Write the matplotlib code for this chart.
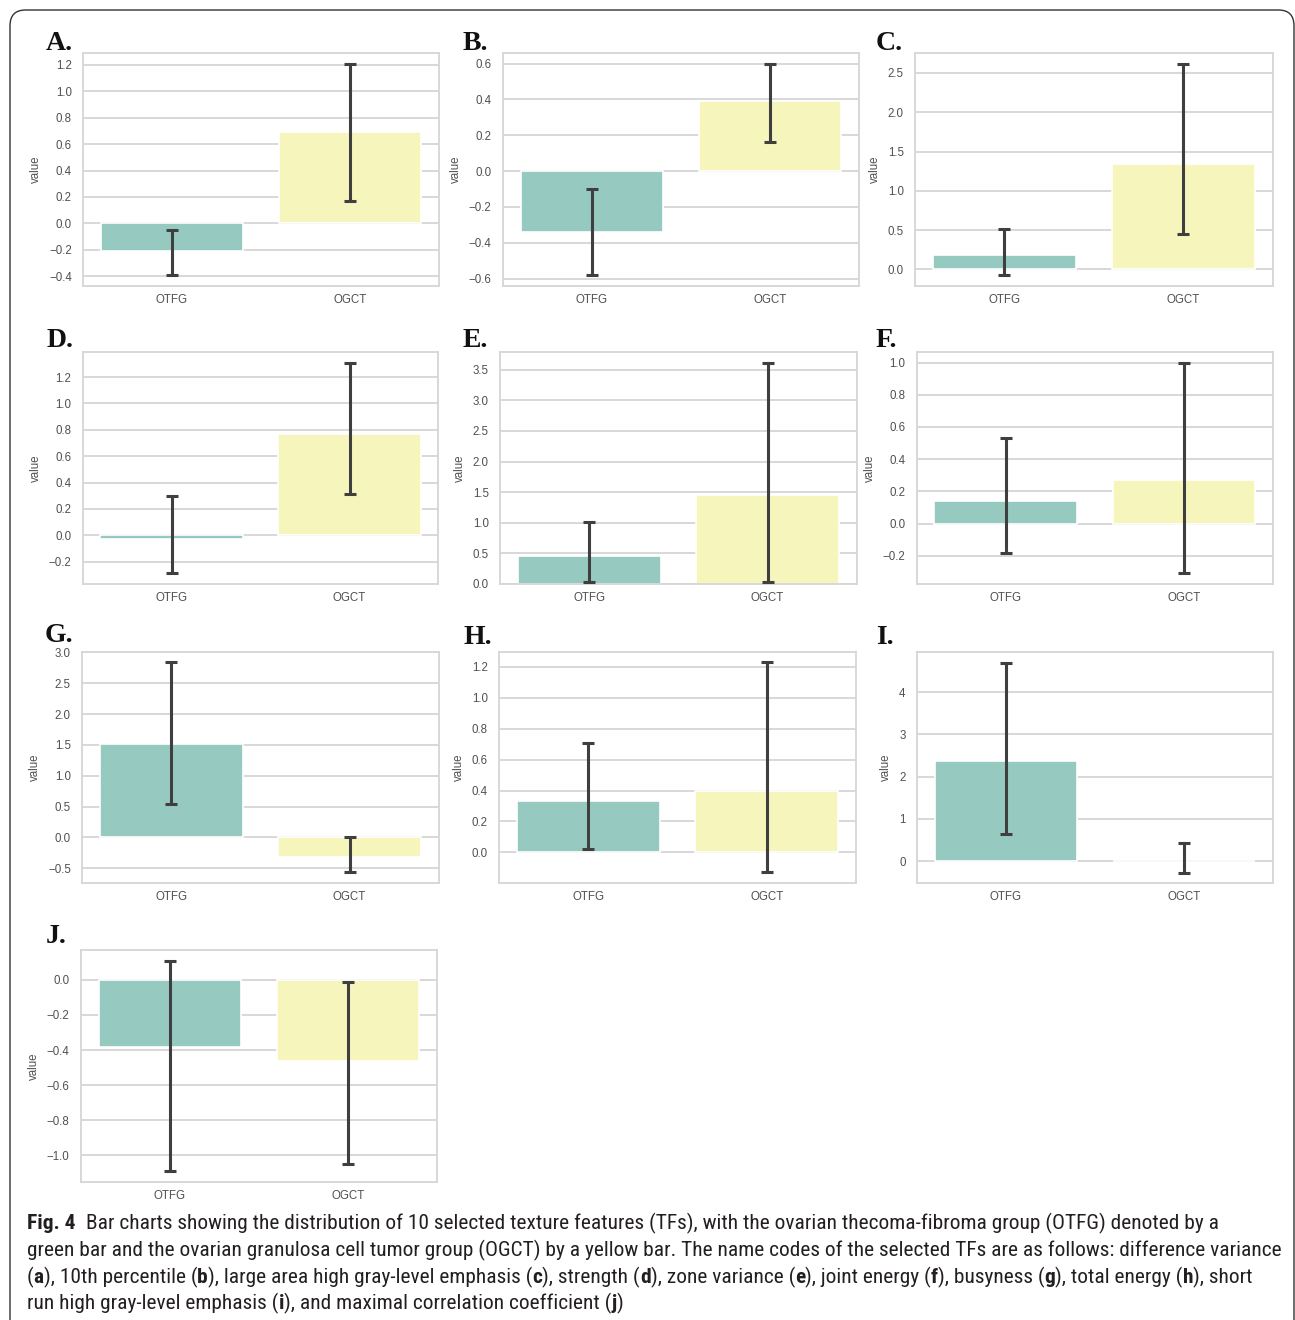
import colorsys
import matplotlib
matplotlib.use("Agg")
import matplotlib.pyplot as plt
from matplotlib import font_manager
from matplotlib.patches import FancyBboxPatch
from matplotlib.ticker import MultipleLocator, FuncFormatter
import matplotlib.colors as mcolors

# ---------------- data ----------------
panels = ["A.", "B.", "C.", "D.", "E.", "F.", "G.", "H.", "I.", "J."]
groups = ["OTFG", "OGCT"]
mean_otfg = [-0.21, -0.34, 0.18, -0.03, 0.45, 0.14, 1.52, 0.33, 2.36, -0.38]
mean_ogct = [0.69, 0.39, 1.34, 0.77, 1.46, 0.27, -0.32, 0.40, 0.00, -0.46]
lo_otfg = [-0.39, -0.58, -0.07, -0.29, 0.04, -0.18, 0.54, 0.02, 0.65, -1.09]
hi_otfg = [-0.05, -0.10, 0.52, 0.30, 1.02, 0.53, 2.84, 0.71, 4.70, 0.11]
lo_ogct = [0.17, 0.16, 0.45, 0.31, 0.04, -0.31, -0.57, -0.13, -0.27, -1.05]
hi_ogct = [1.21, 0.60, 2.62, 1.31, 3.61, 1.00, 0.00, 1.23, 0.43, -0.01]
tick_steps = [0.2, 0.2, 0.5, 0.2, 0.5, 0.2, 0.5, 0.2, 1.0, 0.2]
tick_dec = [1, 1, 1, 1, 1, 1, 1, 1, 0, 1]

caption_lines = [
    [("Fig. 4", True), ("Bar charts showing the distribution of 10 selected texture features (TFs), with the ovarian thecoma-fibroma group (OTFG) denoted by a", False)],
    [("green bar and the ovarian granulosa cell tumor group (OGCT) by a yellow bar. The name codes of the selected TFs are as follows: difference variance", False)],
    [("(", False), ("a", True), ("), 10th percentile (", False), ("b", True), ("), large area high gray-level emphasis (", False), ("c", True),
     ("), strength (", False), ("d", True), ("), zone variance (", False), ("e", True), ("), joint energy (", False), ("f", True),
     ("), busyness (", False), ("g", True), ("), total energy (", False), ("h", True), ("), short", False)],
    [("run high gray-level emphasis (", False), ("i", True), ("), and maximal correlation coefficient (", False), ("j", True), (")", False)],
]

# ---------------- style ----------------
W, H = 1295, 1320
fig = plt.figure(figsize=(W / 100, H / 100), dpi=100)
fig.patch.set_facecolor("white")


def desat(c, prop=0.75):
    r, g, b = mcolors.to_rgb(c)
    h, l, s = colorsys.rgb_to_hls(r, g, b)
    return colorsys.hls_to_rgb(h, l, s * prop)


bar_colors = [desat("#8dd3c7"), desat("#ffffb3")]
grid_c = "#d6d6d6"
err_c = "#3f3f3f"
tick_c = "#505050"

boxes = [
    (83, 53, 438.7, 285.5), (502.7, 53, 858.7, 285.5), (915, 53, 1272.7, 285.5),
    (82.5, 352, 438.5, 584), (500, 352, 856.7, 584), (916.5, 352, 1273, 584),
    (82, 651.7, 438.7, 883), (499, 651.7, 856, 883), (916.7, 652, 1273, 883),
    (80.7, 950, 436.7, 1181.7),
]
letter_pos = [(46, 50), (463, 50), (876, 50), (47, 347), (463, 347), (876, 347),
              (45, 642), (464, 644), (876, 644), (46, 943)]


def make_fmt(dec):
    def f(v, pos):
        s = ("%." + str(dec) + "f") % v
        if s.startswith("-"):
            if float(s) == 0:
                s = s[1:]
            else:
                s = "\u2212" + s[1:]
        return s
    return FuncFormatter(f)


for i in range(10):
    l, t, r, b = boxes[i]
    ax = fig.add_axes([l / W, 1 - b / H, (r - l) / W, (b - t) / H])
    ax.set_facecolor("white")
    x = [0, 1]
    means = [mean_otfg[i], mean_ogct[i]]
    lows = [lo_otfg[i], lo_ogct[i]]
    highs = [hi_otfg[i], hi_ogct[i]]
    ax.bar(x, means, width=0.8, color=bar_colors, edgecolor="white", linewidth=1.2, zorder=2)
    yerr = [[m - lo for m, lo in zip(means, lows)], [hi - m for m, hi in zip(means, highs)]]
    ax.errorbar(x, means, yerr=yerr, fmt="none", ecolor=err_c, elinewidth=2.2,
                capsize=4, capthick=2.2, zorder=3)
    ax.set_xlim(-0.5, 1.5)
    ax.set_xticks(x)
    ax.set_xticklabels(groups)
    ax.yaxis.set_major_locator(MultipleLocator(tick_steps[i]))
    ax.yaxis.set_major_formatter(make_fmt(tick_dec[i]))
    ax.grid(axis="y", color=grid_c, linewidth=1.3, zorder=0)
    ax.grid(axis="x", visible=False)
    ax.set_axisbelow(True)
    for s in ax.spines.values():
        s.set_color(grid_c)
        s.set_linewidth(1.3)
    ax.tick_params(axis="both", length=0, labelsize=8.3, labelcolor=tick_c)
    ax.tick_params(axis="y", pad=8)
    ax.tick_params(axis="x", pad=6)
    for lab in ax.get_xticklabels() + ax.get_yticklabels():
        lab.set_family("Liberation Sans")
    ax.set_ylabel("value", fontsize=8.3, color=tick_c, family="Liberation Sans", labelpad=5)
    lx, ly = letter_pos[i]
    fig.text(lx / W, 1 - ly / H, panels[i], family="Liberation Serif", fontweight="bold",
             fontsize=20, color="#111111", ha="left", va="baseline")

# ---------------- caption font selection ----------------
def wnum(w):
    if isinstance(w, int):
        return w
    return {"normal": 400, "regular": 400, "book": 400, "medium": 500, "bold": 700,
            "light": 300}.get(str(w).lower(), 400)

ttf = font_manager.fontManager.ttflist
narrow = [f for f in ttf if f.style == "normal" and
          ("Narrow" in f.name or "Condensed" in f.name or "condensed" in str(f.stretch))]
pref = ["Liberation Sans Narrow", "Roboto Condensed", "Open Sans Condensed"]


def pick(weight_target):
    for name in pref:
        cands = [f for f in narrow if f.name == name]
        if not cands:
            continue
        cands.sort(key=lambda f: abs(wnum(f.weight) - weight_target))
        if abs(wnum(cands[0].weight) - weight_target) <= 100:
            return font_manager.FontProperties(fname=cands[0].fname)
    cands = sorted(narrow, key=lambda f: abs(wnum(f.weight) - weight_target))
    if cands and abs(wnum(cands[0].weight) - weight_target) <= 100:
        return font_manager.FontProperties(fname=cands[0].fname)
    return font_manager.FontProperties(family="Liberation Sans",
                                       weight="bold" if weight_target >= 600 else "normal")

fp_regular = pick(400)
fp_bold = pick(700)

renderer = fig.canvas.get_renderer()
probe_fp = fp_regular.copy()
probe_fp.set_size(13)
probe = fig.text(0, 0, caption_lines[1][0][0], fontproperties=probe_fp)
pw = probe.get_window_extent(renderer).width
probe.remove()
fs = 13 * (1279 - 27) / pw

baselines = [1229, 1256, 1283, 1309]
cap_color = "#231f20"
for li, segs in enumerate(caption_lines):
    x = 27
    y = baselines[li]
    for si, (txt, bold) in enumerate(segs):
        fp = (fp_bold if bold else fp_regular).copy()
        fp.set_size(fs)
        tobj = fig.text(x / W, 1 - y / H, txt, fontproperties=fp, color=cap_color,
                        ha="left", va="baseline")
        bb = tobj.get_window_extent(renderer)
        x += bb.width
        if li == 0 and si == 0:
            x += 10

# ---------------- border ----------------
border = FancyBboxPatch((10 / W, -0.05), (1294 - 10) / W, 1 - 10 / H + 0.05,
                        boxstyle="round,pad=0,rounding_size=0.012",
                        transform=fig.transFigure, facecolor="none",
                        edgecolor="#333333", linewidth=1.0, clip_on=False)
fig.add_artist(border)

fig.savefig("out.png", dpi=100, facecolor="white")
